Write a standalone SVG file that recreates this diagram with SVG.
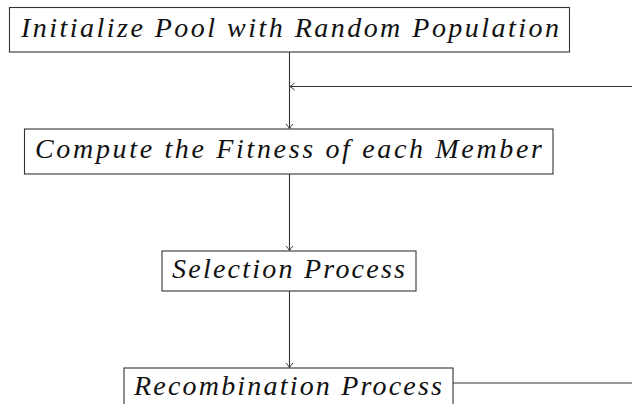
<svg xmlns="http://www.w3.org/2000/svg" width="632" height="404" viewBox="0 0 632 404">
<defs>
<style>
.box{fill:#fff;stroke:#333;stroke-width:1.1}
.edge{fill:none;stroke:#333;stroke-width:1.1}
text{font-family:'Liberation Serif','DejaVu Serif',serif;font-style:italic;font-size:28px;fill:#111}
</style>
<marker id="arr" viewBox="-6 -5 8 10" markerWidth="8" markerHeight="10" refX="0" refY="0" orient="auto" markerUnits="userSpaceOnUse">
<path d="M-4.5,-3.5 Q-1.5,-0.8 0,0 Q-1.5,0.8 -4.5,3.5" fill="none" stroke="#333" stroke-width="1"/>
</marker>
</defs>
<rect width="632" height="404" fill="#fff"/>
<g id="connectors">
<path class="edge" d="M289.5,52 V128.5" marker-end="url(#arr)"/>
<path class="edge" d="M632,86.5 H290" marker-end="url(#arr)"/>
<path class="edge" d="M289.5,174 V250.5" marker-end="url(#arr)"/>
<path class="edge" d="M289.5,291 V367.5" marker-end="url(#arr)"/>
<path class="edge" d="M453,383 H632"/>
</g>
<g id="n1">
<rect class="box" x="9.5" y="7.5" width="560" height="44.5"/>
<text x="21" y="37" textLength="538" lengthAdjust="spacing">Initialize Pool with Random Population</text>
</g>
<g id="n2">
<rect class="box" x="24.5" y="129" width="528.5" height="45"/>
<text x="35" y="157.5" textLength="507" lengthAdjust="spacing">Compute the Fitness of each Member</text>
</g>
<g id="n3">
<rect class="box" x="162" y="251" width="254" height="40"/>
<text x="172" y="278" textLength="233" lengthAdjust="spacing">Selection Process</text>
</g>
<g id="n4">
<rect class="box" x="124" y="368" width="329" height="45"/>
<text x="134" y="395" textLength="308" lengthAdjust="spacing">Recombination Process</text>
</g>
</svg>
